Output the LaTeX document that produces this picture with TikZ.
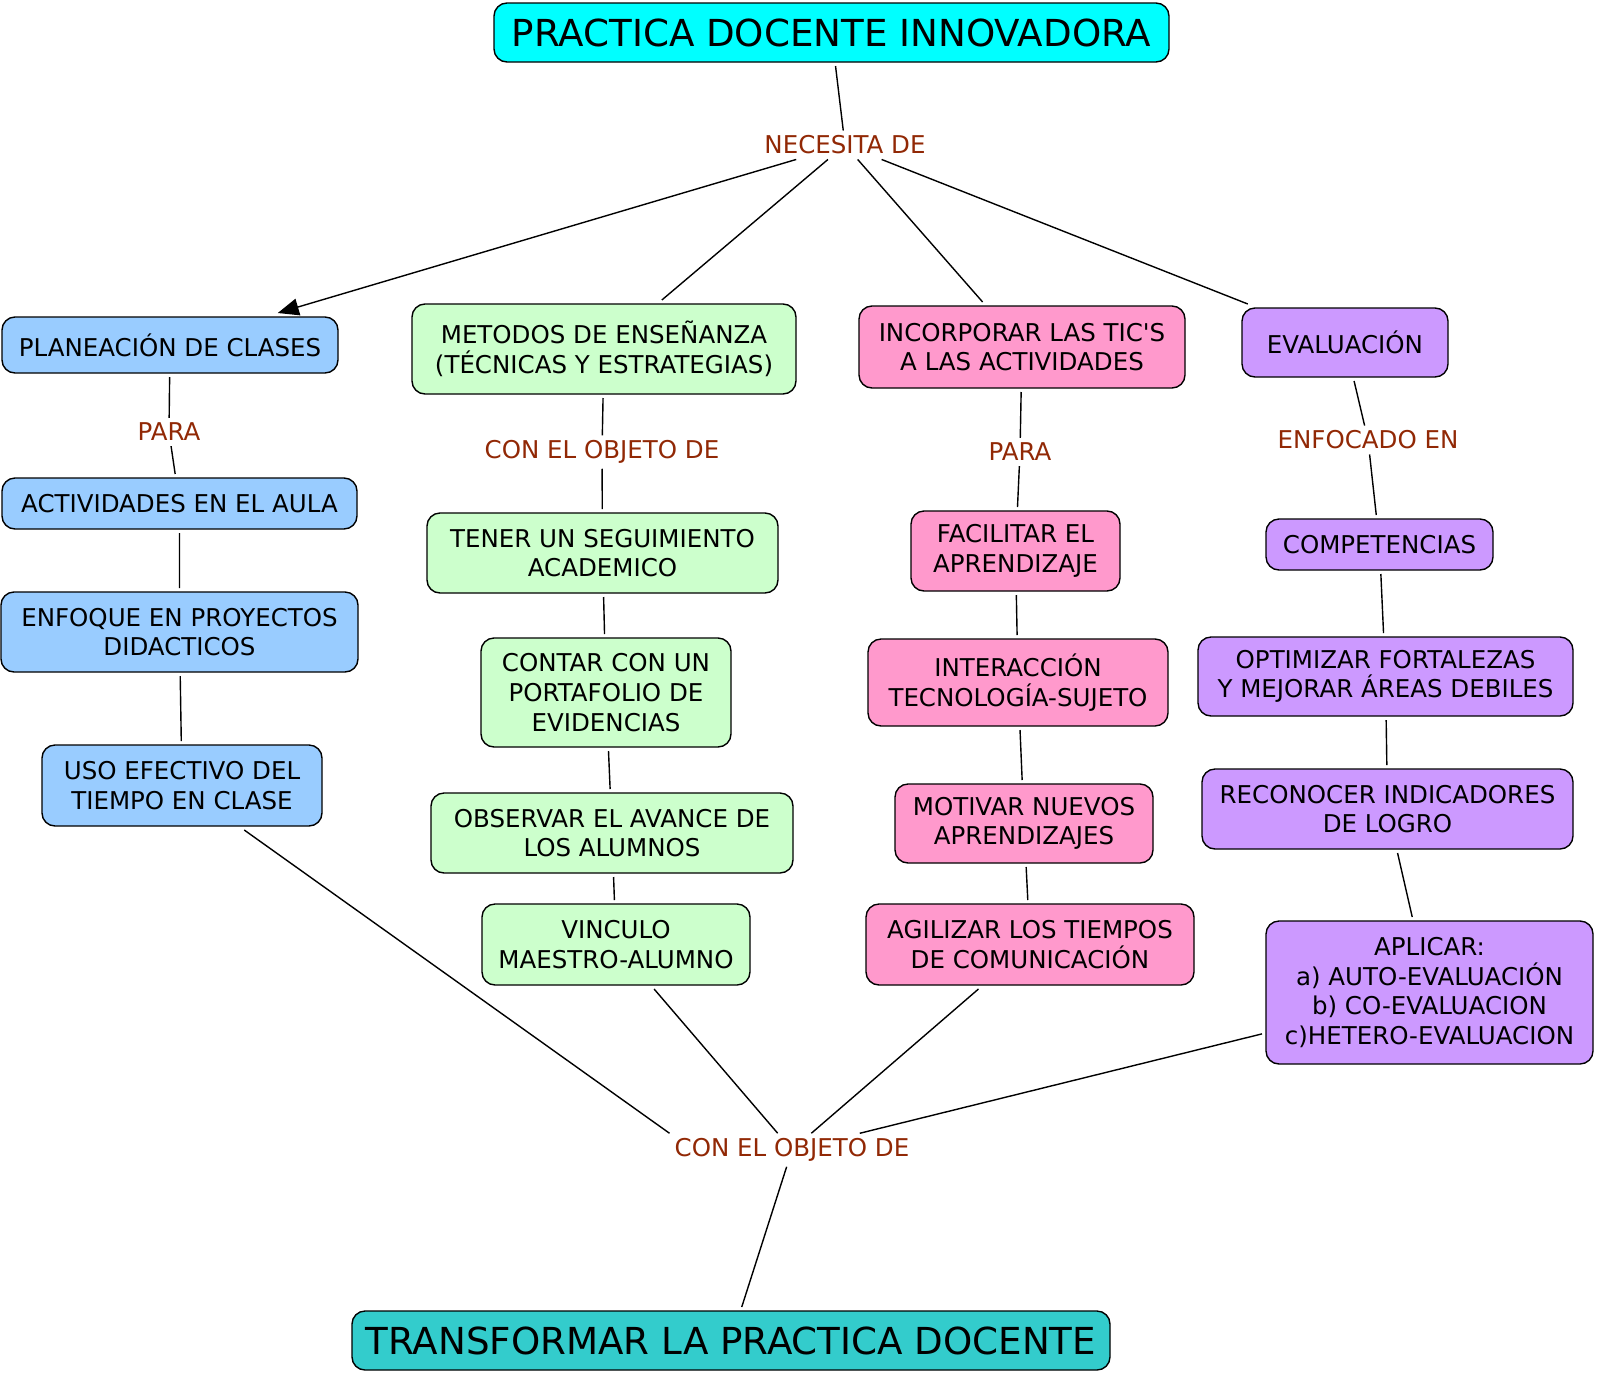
\documentclass[tikz,border=0pt]{standalone}
\usepackage{fontspec}
\newfontfamily\mapfont{DejaVu Sans}
\usetikzlibrary{arrows.meta}
\definecolor{azul}{HTML}{99CCFF}
\definecolor{verde}{HTML}{CCFFCC}
\definecolor{rosa}{HTML}{FF99CC}
\definecolor{lila}{HTML}{CC99FF}
\definecolor{cian}{HTML}{00FFFF}
\definecolor{turquesa}{HTML}{33CCCC}
\definecolor{enlace}{RGB}{145,40,5}
\begin{document}
\begin{tikzpicture}[x=1pt,y=-1pt,
        concepto/.style={draw=black,line width=1.4pt,rounded corners=13pt,align=center,
            inner sep=0pt,outer sep=4pt,font=\mapfont\fontsize{24.5}{29.6}\selectfont},
        titulo/.style={concepto,font=\mapfont\fontsize{37.2}{42}\selectfont},
        frase/.style={text=enlace,inner sep=5pt,font=\mapfont\fontsize{24.5}{29.6}\selectfont},
        linea/.style={line width=1.4pt}]
        \useasboundingbox (0,0) rectangle (1600,1376);
        % raiz
        \node[titulo,fill=cian,minimum width=675,minimum height=59] (practica) at (831.5,32.5) {PRACTICA DOCENTE INNOVADORA};
        \node[frase] (necesita) at (845,145) {NECESITA DE};
        \node[concepto,fill=azul,minimum width=336,minimum height=56] (planeacion) at (170,345) {PLANEACIÓN DE CLASES};
        \node[concepto,fill=verde,minimum width=384,minimum height=90] (metodos) at (604,349) {METODOS DE ENSEÑANZA\\(TÉCNICAS Y ESTRATEGIAS)};
        \node[concepto,fill=rosa,minimum width=326,minimum height=82] (tics) at (1022,347) {INCORPORAR LAS TIC'S\\A LAS ACTIVIDADES};
        \node[concepto,fill=lila,minimum width=206,minimum height=69] (evaluacion) at (1345,342.5) {EVALUACIÓN};
        % planeacion
        \node[frase] (para1) at (169,432) {PARA};
        \node[concepto,fill=azul,minimum width=355,minimum height=51] (actividades) at (179.5,503.5) {ACTIVIDADES EN EL AULA};
        \node[concepto,fill=azul,minimum width=357,minimum height=80] (enfoque) at (179.5,632) {ENFOQUE EN PROYECTOS\\DIDACTICOS};
        \node[concepto,fill=azul,minimum width=280,minimum height=81] (uso) at (182,785.5) {USO EFECTIVO DEL\\TIEMPO EN CLASE};
        % metodos
        \node[frase] (objeto1) at (602,452) {CON EL OBJETO DE};
        \node[concepto,fill=verde,minimum width=351,minimum height=80] (seguimiento) at (602.5,553) {TENER UN SEGUIMIENTO\\ACADEMICO};
        \node[concepto,fill=verde,minimum width=250,minimum height=109] (portafolio) at (606,692.5) {CONTAR CON UN\\PORTAFOLIO DE\\EVIDENCIAS};
        \node[concepto,fill=verde,minimum width=362,minimum height=80] (avance) at (612,833) {OBSERVAR EL AVANCE DE\\LOS ALUMNOS};
        \node[concepto,fill=verde,minimum width=268,minimum height=81] (vinculo) at (616,944.5) {VINCULO\\MAESTRO-ALUMNO};
        % tics
        \node[frase] (para2) at (1020,452) {PARA};
        \node[concepto,fill=rosa,minimum width=209,minimum height=80] (facilitar) at (1015.5,551) {FACILITAR EL\\APRENDIZAJE};
        \node[concepto,fill=rosa,minimum width=300,minimum height=87] (interaccion) at (1018,682.5) {INTERACCIÓN\\TECNOLOGÍA-SUJETO};
        \node[concepto,fill=rosa,minimum width=258,minimum height=79] (motivar) at (1024,823.5) {MOTIVAR NUEVOS\\APRENDIZAJES};
        \node[concepto,fill=rosa,minimum width=328,minimum height=81] (agilizar) at (1030,944.5) {AGILIZAR LOS TIEMPOS\\DE COMUNICACIÓN};
        % evaluacion
        \node[frase] (enfocado) at (1368,440) {ENFOCADO EN};
        \node[concepto,fill=lila,minimum width=227,minimum height=51] (competencias) at (1379.5,544.5) {COMPETENCIAS};
        \node[concepto,fill=lila,minimum width=375,minimum height=79] (optimizar) at (1385.5,676.5) {OPTIMIZAR FORTALEZAS\\Y MEJORAR ÁREAS DEBILES};
        \node[concepto,fill=lila,minimum width=371,minimum height=80] (reconocer) at (1387.5,809) {RECONOCER INDICADORES\\DE LOGRO};
        \node[concepto,fill=lila,minimum width=327,minimum height=143] (aplicar) at (1429.5,992.5) {APLICAR:\\a) AUTO-EVALUACIÓN\\b) CO-EVALUACION\\c)HETERO-EVALUACION};
        % final
        \node[frase] (objeto2) at (792,1150) {CON EL OBJETO DE};
        \node[titulo,fill=turquesa,minimum width=758,minimum height=59] (transformar) at (731,1340.5) {TRANSFORMAR LA PRACTICA DOCENTE};
        % enlaces
        \draw[linea] (practica) -- (necesita);
        \draw[linea,-{Triangle[length=21pt,width=17pt]}] (necesita) -- (planeacion);
        \draw[linea] (necesita) -- (metodos);
        \draw[linea] (necesita) -- (tics);
        \draw[linea] (necesita) -- (evaluacion);
        \draw[linea] (planeacion) -- (para1) -- (actividades) -- (enfoque) -- (uso);
        \draw[linea] (metodos) -- (objeto1) -- (seguimiento) -- (portafolio) -- (avance) -- (vinculo);
        \draw[linea] (tics) -- (para2) -- (facilitar) -- (interaccion) -- (motivar) -- (agilizar);
        \draw[linea] (evaluacion) -- (enfocado) -- (competencias) -- (optimizar) -- (reconocer) -- (aplicar);
        \draw[linea] (uso) -- (objeto2.north west);
        \draw[linea] (vinculo) -- (objeto2);
        \draw[linea] (agilizar) -- (objeto2);
        \draw[linea] (aplicar) -- (objeto2);
        \draw[linea] (objeto2) -- (transformar);
    \end{tikzpicture}
\end{document}
